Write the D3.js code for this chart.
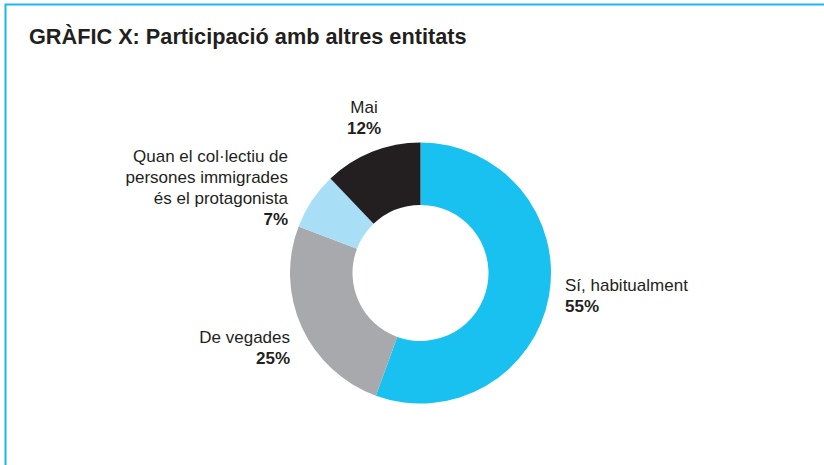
<!DOCTYPE html>
<html>
<head>
<meta charset="utf-8">
<script src="https://cdn.jsdelivr.net/npm/d3@7"></script>
<style>
  body { margin: 0; background: #fff; }
  text { font-family: "Liberation Sans", Arial, sans-serif; fill: #231f20; }
</style>
</head>
<body>
<script>
// data
var categories = ["Sí, habitualment", "De vegades",
    "Quan el col·lectiu de\npersones immigrades\nés el protagonista", "Mai"];
var values = [55, 25, 7, 12];
var labels = ["55%", "25%", "7%", "12%"];
var colors = ["#19c1f1", "#a7a9ac", "#a8dff7", "#231f20"];

var width = 824, height = 465;
var cx = 420.5, cy = 273,
    outerR = 130.5, innerR = 68;

// label anchors relative to donut centre (first baseline)
var labelLayout = [
    {dx: 144.5, dy: 18, anchor: "start"},
    {dx: -130.5, dy: 70, anchor: "end"},
    {dx: -132.5, dy: -111, anchor: "end"},
    {dx: -56.5, dy: -160, anchor: "middle"}
];
var lineH = 21;

var svg = d3.select("body").append("svg")
    .attr("width", width)
    .attr("height", height);

// frame
svg.append("path")
    .attr("d", "M5.5," + height + "V4.5H" + width)
    .attr("fill", "none")
    .attr("stroke", "#1bb8ec")
    .attr("stroke-width", 2);

// title
svg.append("text")
    .attr("x", 29)
    .attr("y", 44)
    .style("font-size", "21.7px")
    .style("font-weight", "bold")
    .text("GRÀFIC X: Participació amb altres entitats");

var pie = d3.pie().sort(null).value(function(d) { return d; });
var arc = d3.arc().innerRadius(innerR).outerRadius(outerR);

var g = svg.append("g")
    .attr("transform", "translate(" + cx + "," + cy + ")");

g.selectAll(".slice")
    .data(pie(values))
    .enter().append("path")
    .attr("class", "slice")
    .attr("d", arc)
    .attr("fill", function(d, i) { return colors[i]; });

// labels
categories.forEach(function(c, i) {
    var lay = labelLayout[i];
    var lines = c.split("\n");
    var t = g.append("text")
        .attr("text-anchor", lay.anchor)
        .style("font-size", "17px");
    lines.forEach(function(l, j) {
        t.append("tspan")
            .attr("x", lay.dx)
            .attr("y", lay.dy + j * lineH)
            .text(l);
    });
    t.append("tspan")
        .attr("x", lay.dx)
        .attr("y", lay.dy + lines.length * lineH)
        .style("font-weight", "bold")
        .text(labels[i]);
});
</script>
</body>
</html>
